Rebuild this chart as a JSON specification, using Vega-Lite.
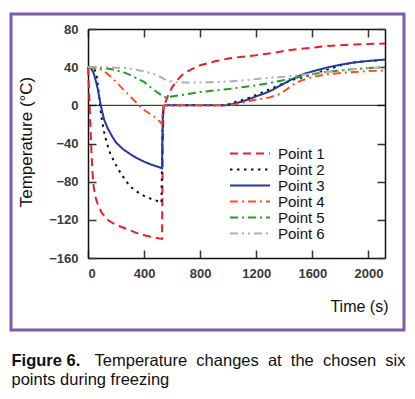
{
"$schema": "https://vega.github.io/schema/vega-lite/v6.json",
"width": 393, "height": 316,
"autosize": {"type": "none"},
"padding": {"left": 11, "top": 14, "right": 11, "bottom": 69},
"background": "white",
"title": {"text": "Figure 6.", "subtitle": "points during freezing", "orient": "top", "anchor": "start", "frame": "group", "dy": 378, "dx": 0.5,
          "font": "Liberation Sans", "fontSize": 16.5, "fontWeight": "bold", "color": "#111",
          "subtitleFont": "Liberation Sans", "subtitleFontSize": 16.5, "subtitleFontWeight": "normal", "subtitleColor": "#111", "subtitlePadding": 2},
"config": {
  "font": "Liberation Sans",
  "view": {"stroke": "#7b5ea7", "strokeWidth": 3},
  "axis": {"grid": false, "domainColor": "#111", "domainWidth": 1.5, "tickColor": "#333", "tickWidth": 1.5, "tickSize": -8,
           "labelFont": "Liberation Sans", "labelFontSize": 13, "labelFontWeight": "bold", "labelColor": "#3a3a3a",
           "titleFont": "Liberation Sans", "titleFontWeight": "normal", "titleColor": "#111"}
},
"layer": [
  {
    "data": {"values": [{"k": 0}]},
    "mark": {"type": "rule", "color": "#111", "strokeWidth": 1},
    "encoding": {
      "x": {"datum": 0, "type": "quantitative",
            "scale": {"domain": [0, 2118], "range": [77, 374], "nice": false, "zero": false},
            "axis": {"orient": "top", "offset": -15, "values": [0,400,800,1200,1600,2000], "labels": false,
                     "title": "Temperature\u00a0\u00a0changes\u00a0\u00a0at\u00a0\u00a0the\u00a0\u00a0chosen\u00a0\u00a0six",
                     "titleX": 394, "titleY": 336, "titleAlign": "right", "titleAnchor": "end", "titleBaseline": "alphabetic", "titleAngle": 0,
                     "titleFontSize": 16.5, "titleColor": "#111"}},
      "x2": {"datum": 2118},
      "y": {"datum": 0, "type": "quantitative",
            "scale": {"domain": [-160, 80], "range": [244, 15], "nice": false, "zero": false},
            "axis": {"orient": "right", "offset": -19, "values": [-160,-120,-80,-40,0,40,80], "labels": false, "title": null}}
    }
  },
  {
    "data": {"values": [
{"s":"Point 1","t":0,"v":40},{"s":"Point 1","t":6,"v":20},{"s":"Point 1","t":12,"v":-2},{"s":"Point 1","t":18,"v":-25},{"s":"Point 1","t":25,"v":-50},{"s":"Point 1","t":32,"v":-70},{"s":"Point 1","t":40,"v":-85},{"s":"Point 1","t":55,"v":-97},{"s":"Point 1","t":75,"v":-106},{"s":"Point 1","t":100,"v":-113},{"s":"Point 1","t":145,"v":-120.5},{"s":"Point 1","t":190,"v":-124.5},{"s":"Point 1","t":240,"v":-127.5},{"s":"Point 1","t":300,"v":-131},{"s":"Point 1","t":360,"v":-134.5},{"s":"Point 1","t":410,"v":-136.5},{"s":"Point 1","t":455,"v":-138},{"s":"Point 1","t":514,"v":-139.7},{"s":"Point 1","t":528,"v":-140},{"s":"Point 1","t":530,"v":-100},{"s":"Point 1","t":533,"v":-40},{"s":"Point 1","t":538,"v":-5},{"s":"Point 1","t":548,"v":2},{"s":"Point 1","t":570,"v":10},{"s":"Point 1","t":600,"v":19},{"s":"Point 1","t":640,"v":27},{"s":"Point 1","t":680,"v":33},{"s":"Point 1","t":740,"v":38},{"s":"Point 1","t":800,"v":42},{"s":"Point 1","t":900,"v":46},{"s":"Point 1","t":1000,"v":49},{"s":"Point 1","t":1100,"v":51},{"s":"Point 1","t":1200,"v":52.5},{"s":"Point 1","t":1300,"v":54.5},{"s":"Point 1","t":1400,"v":57},{"s":"Point 1","t":1500,"v":59},{"s":"Point 1","t":1600,"v":60.5},{"s":"Point 1","t":1700,"v":62},{"s":"Point 1","t":1800,"v":63},{"s":"Point 1","t":1900,"v":63.8},{"s":"Point 1","t":2000,"v":64.3},{"s":"Point 1","t":2118,"v":64.8},
{"s":"Point 2","t":0,"v":40},{"s":"Point 2","t":40,"v":39},{"s":"Point 2","t":55,"v":35},{"s":"Point 2","t":65,"v":28},{"s":"Point 2","t":75,"v":15},{"s":"Point 2","t":85,"v":0},{"s":"Point 2","t":100,"v":-16},{"s":"Point 2","t":115,"v":-28},{"s":"Point 2","t":135,"v":-40},{"s":"Point 2","t":160,"v":-51},{"s":"Point 2","t":190,"v":-60},{"s":"Point 2","t":220,"v":-68},{"s":"Point 2","t":260,"v":-77},{"s":"Point 2","t":300,"v":-85},{"s":"Point 2","t":350,"v":-90.5},{"s":"Point 2","t":400,"v":-95},{"s":"Point 2","t":450,"v":-98},{"s":"Point 2","t":500,"v":-100.5},{"s":"Point 2","t":524,"v":-102},{"s":"Point 2","t":527,"v":-70},{"s":"Point 2","t":531,"v":-25},{"s":"Point 2","t":536,"v":0},{"s":"Point 2","t":700,"v":0},{"s":"Point 2","t":960,"v":0},{"s":"Point 2","t":1000,"v":1},{"s":"Point 2","t":1050,"v":3.5},{"s":"Point 2","t":1100,"v":5.5},{"s":"Point 2","t":1150,"v":8},{"s":"Point 2","t":1200,"v":11},{"s":"Point 2","t":1300,"v":17},{"s":"Point 2","t":1370,"v":21.5},{"s":"Point 2","t":1465,"v":27},{"s":"Point 2","t":1550,"v":30},{"s":"Point 2","t":1600,"v":32.5},{"s":"Point 2","t":1740,"v":39},{"s":"Point 2","t":1810,"v":42.5},{"s":"Point 2","t":1900,"v":45},{"s":"Point 2","t":2000,"v":46.5},{"s":"Point 2","t":2080,"v":47},
{"s":"Point 3","t":0,"v":40},{"s":"Point 3","t":20,"v":39},{"s":"Point 3","t":40,"v":34},{"s":"Point 3","t":55,"v":26},{"s":"Point 3","t":70,"v":17},{"s":"Point 3","t":85,"v":5},{"s":"Point 3","t":100,"v":-6},{"s":"Point 3","t":115,"v":-15},{"s":"Point 3","t":140,"v":-24},{"s":"Point 3","t":170,"v":-32},{"s":"Point 3","t":200,"v":-39},{"s":"Point 3","t":250,"v":-46},{"s":"Point 3","t":300,"v":-51},{"s":"Point 3","t":350,"v":-55.5},{"s":"Point 3","t":400,"v":-59},{"s":"Point 3","t":450,"v":-62},{"s":"Point 3","t":500,"v":-64.5},{"s":"Point 3","t":528,"v":-66},{"s":"Point 3","t":530,"v":-40},{"s":"Point 3","t":533,"v":-15},{"s":"Point 3","t":538,"v":-2},{"s":"Point 3","t":548,"v":0},{"s":"Point 3","t":700,"v":0},{"s":"Point 3","t":980,"v":0},{"s":"Point 3","t":1050,"v":2},{"s":"Point 3","t":1100,"v":4},{"s":"Point 3","t":1150,"v":6.5},{"s":"Point 3","t":1200,"v":9.5},{"s":"Point 3","t":1250,"v":12},{"s":"Point 3","t":1300,"v":15},{"s":"Point 3","t":1350,"v":19},{"s":"Point 3","t":1400,"v":23},{"s":"Point 3","t":1450,"v":27},{"s":"Point 3","t":1500,"v":30.5},{"s":"Point 3","t":1550,"v":33.5},{"s":"Point 3","t":1600,"v":35.5},{"s":"Point 3","t":1700,"v":39.5},{"s":"Point 3","t":1800,"v":42.5},{"s":"Point 3","t":1900,"v":45},{"s":"Point 3","t":2000,"v":46.5},{"s":"Point 3","t":2118,"v":48},
{"s":"Point 4","t":0,"v":40},{"s":"Point 4","t":50,"v":39.5},{"s":"Point 4","t":80,"v":38},{"s":"Point 4","t":100,"v":37},{"s":"Point 4","t":130,"v":34},{"s":"Point 4","t":170,"v":29},{"s":"Point 4","t":210,"v":23},{"s":"Point 4","t":250,"v":17},{"s":"Point 4","t":290,"v":11},{"s":"Point 4","t":330,"v":5},{"s":"Point 4","t":370,"v":-1},{"s":"Point 4","t":410,"v":-6},{"s":"Point 4","t":455,"v":-10},{"s":"Point 4","t":490,"v":-14},{"s":"Point 4","t":526,"v":-19},{"s":"Point 4","t":530,"v":-10},{"s":"Point 4","t":536,"v":-2},{"s":"Point 4","t":545,"v":0},{"s":"Point 4","t":800,"v":0},{"s":"Point 4","t":1000,"v":0},{"s":"Point 4","t":1050,"v":1},{"s":"Point 4","t":1100,"v":2.5},{"s":"Point 4","t":1180,"v":5.5},{"s":"Point 4","t":1250,"v":7},{"s":"Point 4","t":1300,"v":8.5},{"s":"Point 4","t":1370,"v":12},{"s":"Point 4","t":1420,"v":17},{"s":"Point 4","t":1465,"v":22},{"s":"Point 4","t":1520,"v":26},{"s":"Point 4","t":1600,"v":29.5},{"s":"Point 4","t":1700,"v":32.5},{"s":"Point 4","t":1800,"v":34},{"s":"Point 4","t":1900,"v":35},{"s":"Point 4","t":2000,"v":36},{"s":"Point 4","t":2118,"v":36.5},
{"s":"Point 5","t":0,"v":40},{"s":"Point 5","t":80,"v":39.5},{"s":"Point 5","t":160,"v":38},{"s":"Point 5","t":250,"v":35},{"s":"Point 5","t":325,"v":30},{"s":"Point 5","t":400,"v":24.5},{"s":"Point 5","t":450,"v":18.5},{"s":"Point 5","t":500,"v":13},{"s":"Point 5","t":540,"v":9},{"s":"Point 5","t":562,"v":8},{"s":"Point 5","t":585,"v":9},{"s":"Point 5","t":700,"v":11.5},{"s":"Point 5","t":800,"v":14},{"s":"Point 5","t":900,"v":15.5},{"s":"Point 5","t":1000,"v":17},{"s":"Point 5","t":1100,"v":19},{"s":"Point 5","t":1200,"v":21},{"s":"Point 5","t":1300,"v":23.5},{"s":"Point 5","t":1400,"v":26.5},{"s":"Point 5","t":1500,"v":29.5},{"s":"Point 5","t":1600,"v":32.5},{"s":"Point 5","t":1700,"v":35},{"s":"Point 5","t":1800,"v":36.5},{"s":"Point 5","t":1900,"v":38},{"s":"Point 5","t":2000,"v":39},{"s":"Point 5","t":2118,"v":40},
{"s":"Point 6","t":0,"v":40},{"s":"Point 6","t":100,"v":40},{"s":"Point 6","t":200,"v":39.5},{"s":"Point 6","t":290,"v":39},{"s":"Point 6","t":350,"v":37},{"s":"Point 6","t":400,"v":35.5},{"s":"Point 6","t":455,"v":33.5},{"s":"Point 6","t":500,"v":31},{"s":"Point 6","t":550,"v":27},{"s":"Point 6","t":610,"v":24.3},{"s":"Point 6","t":700,"v":24},{"s":"Point 6","t":800,"v":24},{"s":"Point 6","t":900,"v":24.3},{"s":"Point 6","t":1000,"v":25},{"s":"Point 6","t":1100,"v":26},{"s":"Point 6","t":1200,"v":27.5},{"s":"Point 6","t":1300,"v":29},{"s":"Point 6","t":1400,"v":30},{"s":"Point 6","t":1500,"v":31.5},{"s":"Point 6","t":1600,"v":33},{"s":"Point 6","t":1700,"v":35},{"s":"Point 6","t":1800,"v":36.5},{"s":"Point 6","t":1900,"v":38},{"s":"Point 6","t":2000,"v":39},{"s":"Point 6","t":2118,"v":40}
    ]},
    "mark": {"type": "line", "strokeWidth": 2, "clip": false},
    "encoding": {
      "x": {"field": "t", "type": "quantitative",
            "scale": {"domain": [0, 2118], "range": [77, 374], "nice": false, "zero": false},
            "axis": {"orient": "bottom", "offset": -72, "values": [0,400,800,1200,1600,2000], "format": "d", "labelPadding": 17,
                     "title": "Time (s)", "titleX": 377, "titleY": 53.7, "titleAlign": "right", "titleAnchor": "end", "titleBaseline": "alphabetic", "titleFontSize": 16}},
      "y": {"field": "v", "type": "quantitative",
            "scale": {"domain": [-160, 80], "range": [244, 15], "nice": false, "zero": false},
            "axis": {"orient": "left", "offset": -77, "values": [-160,-120,-80,-40,0,40,80], "labelPadding": 18,
                     "title": "Temperature (°C)", "titleX": -62, "titleY": 127.5, "titleAngle": -90, "titleAlign": "center", "titleBaseline": "middle", "titleFontSize": 17}},
      "color": {"field": "s", "type": "nominal",
                "scale": {"domain": ["Point 1","Point 2","Point 3","Point 4","Point 5","Point 6"],
                          "range": ["#ee1c25","#111111","#2438a0","#ff4f1e","#1ea01e","#a8b0b8"]},
                "legend": {"orient": "none", "legendX": 231.5, "legendY": 132, "title": null, "symbolType": "M-3.08,0H3.08", "symbolSize": 169,
                           "symbolStrokeWidth": 2, "labelFontSize": 15, "labelColor": "#111", "labelFont": "Liberation Sans", "labelOffset": 20.5, "rowPadding": -2}},
      "strokeDash": {"field": "s", "type": "nominal",
                "scale": {"domain": ["Point 1","Point 2","Point 3","Point 4","Point 5","Point 6"],
                          "range": [[8,5],[2.5,4.5],[1,0],[8,4,2,4],[8,4,2,4],[8,4,2,4,2,4]]}}
    }
  }
],
"resolve": {"axis": {"x": "independent", "y": "independent"}}
}
